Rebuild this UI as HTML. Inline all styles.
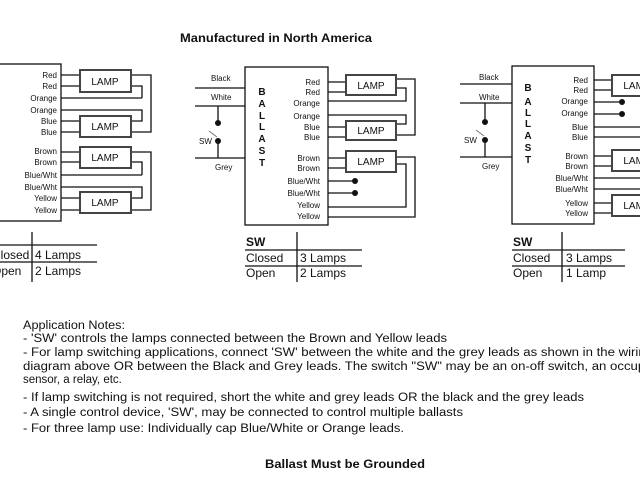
<!DOCTYPE html>
<html><head><meta charset="utf-8"><style>
html,body{margin:0;padding:0;background:#fff;}
svg{display:block;}
text{font-family:"Liberation Sans",Arial,sans-serif;fill:#111;}
.l{font-size:8px;text-anchor:end;}
.lamp{font-size:10px;text-anchor:middle;}
.b{font-size:10px;font-weight:bold;text-anchor:middle;}
.t{font-size:12px;}
.n{font-size:11.5px;}
</style></head><body>
<svg width="640" height="480" viewBox="0 0 640 480" xmlns="http://www.w3.org/2000/svg">
<g fill="none" stroke="#111" stroke-width="1.3">
<rect x="-5" y="64" width="66" height="157"/>
<path d="M61 75H80M61 86H80M61 98H142M61 110H142V121H131M61 121H80M61 132H80"/>
<path d="M131 75H151V132H131M131 86H142V98"/>
<path d="M61 152H80M61 162H80M61 175H142M61 187H142V198H131M61 198H80M61 210H151V152H131M131 162H142V175"/>
<path d="M32 232V282M0 245H97M0 262H97"/>
<rect x="245" y="67" width="83" height="158"/>
<path d="M195 88H245M195 106H245M195 158H245M218 106V123M218 141V158"/>
<path d="M209 131L217 137" stroke="#777" stroke-width="1"/>
<path d="M328 82H346M328 92H346M328 101H406V88H396M396 79H415V135H396"/>
<path d="M328 115H406V124H396M328 127H346M328 137H346"/>
<path d="M328 158H346M328 168H346M396 157H415V217H328M396 164H406V207H328"/>
<path d="M328 181H355M328 193H355"/>
<path d="M297 232V282M245 250H362M245 266H362"/>
<rect x="512" y="66" width="82" height="158"/>
<path d="M460 84H512M460 103H512M460 157H512M485 103V122M485 140V157"/>
<path d="M476 130L484 136" stroke="#777" stroke-width="1"/>
<path d="M594 80H612M594 90H612M594 102H622M594 114H622M594 127H640M594 137H640"/>
<path d="M594 156H612M594 166H612M594 178H640M594 189H640M594 203H612M594 213H612"/>
<path d="M562 232V282M512 250H625M512 266H625"/>
</g>
<g fill="#fff" stroke="#444" stroke-width="2">
<rect x="80" y="70" width="51" height="22"/>
<rect x="80" y="116" width="51" height="21"/>
<rect x="80" y="147" width="51" height="21"/>
<rect x="80" y="192" width="51" height="21"/>
<rect x="346" y="75" width="50" height="20"/>
<rect x="346" y="121" width="50" height="19"/>
<rect x="346" y="151" width="50" height="21"/>
<rect x="612" y="75" width="50" height="21"/>
<rect x="612" y="150" width="50" height="21"/>
<rect x="612" y="195" width="50" height="21"/>
</g>
<g fill="#111">
<circle cx="218" cy="123" r="3"/><circle cx="218" cy="141" r="3"/>
<circle cx="355" cy="181" r="3"/><circle cx="355" cy="193" r="3"/>
<circle cx="485" cy="122" r="3"/><circle cx="485" cy="140" r="3"/>
<circle cx="622" cy="102" r="3"/><circle cx="622" cy="114" r="3"/>
</g>
<text x="180" y="42" textLength="192" lengthAdjust="spacingAndGlyphs" style="font-size:11.5px;font-weight:bold">Manufactured in North America</text>
<text x="57" y="78" class="l">Red</text><text x="57" y="89" class="l">Red</text>
<text x="57" y="101" class="l">Orange</text><text x="57" y="113" class="l">Orange</text>
<text x="57" y="124" class="l">Blue</text><text x="57" y="135" class="l">Blue</text>
<text x="57" y="154" class="l">Brown</text><text x="57" y="165" class="l">Brown</text>
<text x="57" y="178" class="l">Blue/Wht</text><text x="57" y="190" class="l">Blue/Wht</text>
<text x="57" y="201" class="l">Yellow</text><text x="57" y="213" class="l">Yellow</text>
<text x="105" y="85" class="lamp">LAMP</text><text x="105" y="130" class="lamp">LAMP</text>
<text x="105" y="161" class="lamp">LAMP</text><text x="105" y="206" class="lamp">LAMP</text>
<text x="-8" y="259" class="t">Closed</text><text x="35" y="259" class="t">4 Lamps</text>
<text x="-8" y="275" class="t">Open</text><text x="35" y="275" class="t">2 Lamps</text>
<text x="211" y="81" style="font-size:8px">Black</text>
<text x="211" y="100" style="font-size:8px">White</text>
<text x="199" y="144" style="font-size:8px">SW</text>
<text x="215" y="170" style="font-size:8px">Grey</text>
<text x="262" y="95" class="b">B</text><text x="262" y="107" class="b">A</text><text x="262" y="119" class="b">L</text><text x="262" y="130" class="b">L</text><text x="262" y="142" class="b">A</text><text x="262" y="154" class="b">S</text><text x="262" y="166" class="b">T</text>
<text x="320" y="85" class="l">Red</text><text x="320" y="95" class="l">Red</text>
<text x="320" y="106" class="l">Orange</text><text x="320" y="119" class="l">Orange</text>
<text x="320" y="130" class="l">Blue</text><text x="320" y="140" class="l">Blue</text>
<text x="320" y="161" class="l">Brown</text><text x="320" y="171" class="l">Brown</text>
<text x="320" y="184" class="l">Blue/Wht</text><text x="320" y="196" class="l">Blue/Wht</text>
<text x="320" y="208" class="l">Yellow</text><text x="320" y="219" class="l">Yellow</text>
<text x="371" y="89" class="lamp">LAMP</text><text x="371" y="134" class="lamp">LAMP</text><text x="371" y="165" class="lamp">LAMP</text>
<text x="246" y="246" class="t" style="font-weight:bold">SW</text>
<text x="246" y="262" class="t">Closed</text><text x="300" y="262" class="t">3 Lamps</text>
<text x="246" y="277" class="t">Open</text><text x="300" y="277" class="t">2 Lamps</text>
<text x="479" y="80" style="font-size:8px">Black</text>
<text x="479" y="100" style="font-size:8px">White</text>
<text x="464" y="143" style="font-size:8px">SW</text>
<text x="482" y="169" style="font-size:8px">Grey</text>
<text x="528" y="91" class="b">B</text><text x="528" y="105" class="b">A</text><text x="528" y="116" class="b">L</text><text x="528" y="127" class="b">L</text><text x="528" y="139" class="b">A</text><text x="528" y="151" class="b">S</text><text x="528" y="163" class="b">T</text>
<text x="588" y="83" class="l">Red</text><text x="588" y="93" class="l">Red</text>
<text x="588" y="104" class="l">Orange</text><text x="588" y="116" class="l">Orange</text>
<text x="588" y="130" class="l">Blue</text><text x="588" y="140" class="l">Blue</text>
<text x="588" y="159" class="l">Brown</text><text x="588" y="169" class="l">Brown</text>
<text x="588" y="181" class="l">Blue/Wht</text><text x="588" y="192" class="l">Blue/Wht</text>
<text x="588" y="206" class="l">Yellow</text><text x="588" y="216" class="l">Yellow</text>
<text x="637" y="89" class="lamp">LAMP</text><text x="637" y="164" class="lamp">LAMP</text><text x="637" y="209" class="lamp">LAMP</text>
<text x="513" y="246" class="t" style="font-weight:bold">SW</text>
<text x="513" y="262" class="t">Closed</text><text x="566" y="262" class="t">3 Lamps</text>
<text x="513" y="277" class="t">Open</text><text x="566" y="277" class="t">1 Lamp</text>
<text x="23" y="329" class="n" textLength="102" lengthAdjust="spacingAndGlyphs">Application Notes:</text>
<text x="23" y="342" class="n" textLength="424" lengthAdjust="spacingAndGlyphs"> - 'SW' controls the lamps connected between the Brown and Yellow leads</text>
<text x="23" y="356" class="n" textLength="630" lengthAdjust="spacingAndGlyphs"> - For lamp switching applications, connect 'SW' between the white and the grey leads as shown in the wiring</text>
<text x="23" y="370" class="n" textLength="650" lengthAdjust="spacingAndGlyphs">diagram above OR between the Black and Grey leads.  The switch "SW" may be an on-off switch, an occupancy</text>
<text x="23" y="383" class="n">sensor, a relay, etc.</text>
<text x="23" y="401" class="n" textLength="561" lengthAdjust="spacingAndGlyphs"> - If lamp switching is not required, short the white and grey leads OR the black and the grey leads</text>
<text x="23" y="416" class="n" textLength="440" lengthAdjust="spacingAndGlyphs"> - A single control device, 'SW', may be connected to control multiple ballasts</text>
<text x="23" y="432" class="n" textLength="381" lengthAdjust="spacingAndGlyphs"> - For three lamp use: Individually cap Blue/White or Orange leads.</text>
<text x="265" y="468" textLength="160" lengthAdjust="spacingAndGlyphs" style="font-size:12px;font-weight:bold">Ballast Must be Grounded</text>
</svg>
</body></html>
